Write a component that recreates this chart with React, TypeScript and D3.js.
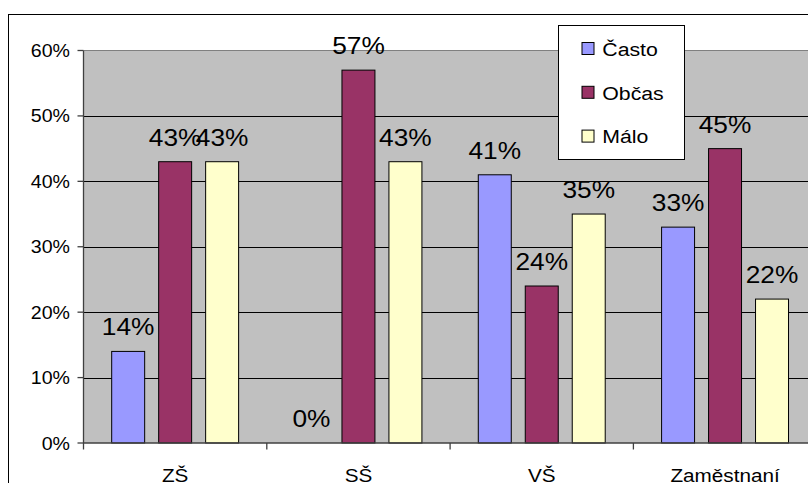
import React from "react";
import * as d3 from "d3";

// Survey answers by education / employment group
const categories = ["ZŠ", "SŠ", "VŠ", "Zaměstnaní"];
const seriesNames = ["Často", "Občas", "Málo"];
const casto = [0.14, 0.0, 0.41, 0.33];
const obcas = [0.43, 0.57, 0.24, 0.45];
const malo = [0.43, 0.43, 0.35, 0.22];
const yTicks = [0, 0.1, 0.2, 0.3, 0.4, 0.5, 0.6];

const seriesValues = [casto, obcas, malo];
const colors = ["#9999FF", "#993366", "#FFFFCC"];

const W = 808;
const H = 483;
const plotLeft = 83.5;
const plotTop = 50.5;
const plotBottom = 443;
const bandW = 183.3;
const plotRight = plotLeft + bandW * categories.length;
const FONT = "'Liberation Sans', Arial, sans-serif";
const SX = 1.12; // horizontal text stretch

function Txt({ x, y, size, anchor = "middle", children }: any) {
  return (
    <text
      transform={`translate(${x},${y}) scale(${SX},1)`}
      fontSize={size}
      fontFamily={FONT}
      textAnchor={anchor}
      fill="#000"
    >
      {children}
    </text>
  );
}

export default function App() {
  const y = d3.scaleLinear().domain([0, 0.6]).range([plotBottom, plotTop]);
  const x0 = d3
    .scaleBand<string>()
    .domain(categories)
    .range([plotLeft, plotRight])
    .paddingInner(0)
    .paddingOuter(0);
  const x1 = d3
    .scaleBand<string>()
    .domain(seriesNames)
    .range([0, x0.bandwidth()])
    .paddingInner(0.298)
    .paddingOuter(0.6);

  const fmt = d3.format(".0%");

  const legendX = 558.5;
  const legendY = 25.5;
  const legendRowBase = [55.7, 99.5, 143.3];

  return (
    <svg
      width={W}
      height={H}
      style={{ position: "absolute", left: 0, top: 0, background: "#fff" }}
    >
      {/* outer chart frame */}
      <rect x={8.5} y={14.5} width={W + 20} height={H + 20} fill="#fff" stroke="#000" strokeWidth={1} />

      {/* plot area */}
      <rect x={plotLeft} y={plotTop} width={plotRight - plotLeft} height={plotBottom - plotTop} fill="#C0C0C0" />
      <line x1={plotLeft} x2={plotRight} y1={plotTop} y2={plotTop} stroke="#808080" strokeWidth={1} />

      {/* gridlines */}
      {yTicks
        .filter((t) => t > 0 && t < 0.6)
        .map((t) => (
          <line
            key={t}
            x1={plotLeft}
            x2={plotRight}
            y1={Math.round(y(t)) + 0.5}
            y2={Math.round(y(t)) + 0.5}
            stroke="#000"
            strokeWidth={1}
          />
        ))}

      {/* bars */}
      {categories.map((c, ci) =>
        seriesNames.map((s, si) => {
          const v = seriesValues[si][ci];
          const bx = (x0(c) as number) + (x1(s) as number);
          const by = y(v);
          return (
            <rect
              key={c + s}
              x={bx}
              y={by}
              width={x1.bandwidth()}
              height={plotBottom - by}
              fill={colors[si]}
              stroke="#000"
              strokeWidth={1}
            />
          );
        })
      )}

      {/* data labels */}
      {categories.map((c, ci) =>
        seriesNames.map((s, si) => {
          const v = seriesValues[si][ci];
          const cx = (x0(c) as number) + (x1(s) as number) + x1.bandwidth() / 2;
          return (
            <Txt key={"l" + c + s} x={cx} y={y(v) - 16} size={23.5}>
              {fmt(v)}
            </Txt>
          );
        })
      )}

      {/* y axis */}
      <line x1={plotLeft} x2={plotLeft} y1={plotTop} y2={plotBottom} stroke="#404040" strokeWidth={1.3} />
      {yTicks.map((t) => (
        <g key={"yt" + t}>
          <line x1={plotLeft - 6} x2={plotLeft} y1={y(t)} y2={y(t)} stroke="#404040" strokeWidth={1.3} />
          <Txt x={70} y={y(t) + 6.5} size={17.5} anchor="end">
            {fmt(t)}
          </Txt>
        </g>
      ))}

      {/* x axis */}
      <line x1={plotLeft} x2={plotRight} y1={plotBottom} y2={plotBottom} stroke="#404040" strokeWidth={1.3} />
      {[...categories.map((c) => x0(c) as number), plotRight].map((tx, i) => (
        <line key={"xt" + i} x1={tx} x2={tx} y1={plotBottom} y2={plotBottom + 6.5} stroke="#404040" strokeWidth={1.3} />
      ))}
      {categories.map((c) => (
        <Txt key={"xl" + c} x={(x0(c) as number) + x0.bandwidth() / 2} y={481.5} size={18.5}>
          {c}
        </Txt>
      ))}

      {/* legend */}
      <rect x={legendX} y={legendY} width={126} height={134} fill="#fff" stroke="#000" strokeWidth={1} />
      {seriesNames.map((s, i) => (
        <g key={"lg" + s}>
          <rect
            x={582}
            y={legendRowBase[i] - 13.2}
            width={12}
            height={12}
            fill={colors[i]}
            stroke="#000"
            strokeWidth={1}
          />
          <Txt x={602.3} y={legendRowBase[i]} size={19} anchor="start">
            {s}
          </Txt>
        </g>
      ))}
    </svg>
  );
}
